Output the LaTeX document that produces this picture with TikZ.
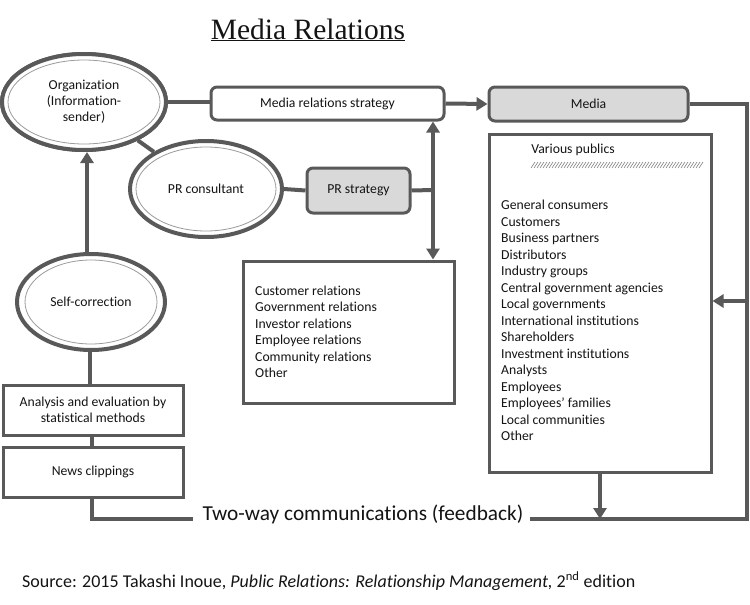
\documentclass[tikz,border=0pt]{standalone}
\usepackage{fontspec}
\setmainfont{Carlito}[Ligatures={NoCommon,NoRare,NoContextual}]
\newfontfamily\titlefont{Liberation Serif}
\usetikzlibrary{shapes.geometric,arrows.meta,calc}
\definecolor{linec}{RGB}{89,89,89}
\definecolor{boxfill}{RGB}{217,217,217}
\definecolor{txt}{RGB}{20,20,20}
\begin{document}
\begin{tikzpicture}[x=1pt,y=-1pt,
  every node/.style={text=txt},
  conn/.style={draw=linec,line width=4pt},
  arr/.style={conn,-{Triangle[width=13pt,length=11pt]}},
  darr/.style={conn,{Triangle[width=13pt,length=11pt]}-{Triangle[width=13pt,length=11pt]}},
  boxtext/.style={font=\fontsize{13.7}{16}\selectfont},
  sqbox/.style={draw=linec,line width=3pt,fill=white,inner sep=0pt,boxtext,align=center},
  rbox/.style={sqbox,rounded corners=6pt},
  gbox/.style={rbox,fill=boxfill},
  ell/.style={ellipse,draw=linec,line width=4pt,fill=white,inner sep=0pt,boxtext,align=center},
  inner/.style={draw=linec!60,line width=0.8pt},
  lst/.style={font=\fontsize{13.7}{16}\selectfont,inner sep=0pt,anchor=base west}
]
\useasboundingbox (0,0) rectangle (750,605);

% title
\node[font=\titlefont\fontsize{29.5}{32}\selectfont,inner sep=0pt,anchor=base] (title) at (308,39) {\underline{Media Relations}};

\node[ell,minimum width=164pt,minimum height=96pt] (org) at (84,102) {Organization\\(Information-\\sender)};
\node[ell,minimum width=152pt,minimum height=96pt] (prc) at (206,189) {PR consultant};
\draw[conn] (org) -- (prc);
\node[ell,minimum width=164pt,minimum height=96pt] (org2) at (84,102) {Organization\\(Information-\\sender)};
\draw[inner] (org2.center) ellipse [x radius=76pt, y radius=42pt];
\draw[inner] (prc.center) ellipse [x radius=70pt, y radius=42pt];

\node[rbox,minimum width=233pt,minimum height=33pt] (mrs) at (327.5,103.5) {Media relations strategy};
\node[gbox,minimum width=199pt,minimum height=34pt] (media) at (588.5,104) {Media};
\node[gbox,minimum width=103pt,minimum height=45pt] (prs) at (358.5,190.5) {PR strategy};

\draw[conn] (org2.east) -- (mrs.west |- org2.east);
\draw[arr] (mrs.east) -- (media.west);
\draw[conn] (prc.east) -- (prs.west);

% relations box
\node[sqbox,minimum width=211pt,minimum height=142pt] (rel) at (348.5,332) {};
\foreach \t [count=\i] in {Customer relations,Government relations,Investor relations,Employee relations,Community relations,Other}
  \node[lst] (r\i) at (255,{295.5+16.4*(\i-1)}) {\t};

\coordinate (jn) at (433,190);
\draw[conn] (prs.east) -- (jn);
\draw[darr] (jn |- mrs.south) -- (jn |- rel.north);

% publics box
\node[sqbox,minimum width=222pt,minimum height=338pt] (pub) at (600,303) {};
\node[boxtext,inner sep=0pt] (vp) at (573,150) {Various publics};
\foreach \k in {0,...,56}
  \draw[linec!75,line width=0.6pt] ({531+3*\k},168) -- ({535+3*\k},162);
\foreach \t [count=\i] in {General consumers,Customers,Business partners,Distributors,Industry groups,Central government agencies,Local governments,International institutions,Shareholders,Investment institutions,Analysts,Employees,Employees’ families,Local communities,Other}
  \node[lst] (p\i) at (501,{209.5+16.5*(\i-1)}) {\t};

% left column
\node[ell,minimum width=148pt,minimum height=96pt] (self) at (91,302) {Self-correction};
\draw[inner] (self.center) ellipse [x radius=66pt, y radius=42pt];
\node[sqbox,minimum width=180pt,minimum height=50pt] (ana) at (93,410) {Analysis and evaluation by\\statistical methods};
\node[sqbox,minimum width=180pt,minimum height=50pt] (news) at (93,472) {News clippings};
\coordinate (up) at (87,0);
\draw[arr] (self.north -| up) -- (org2.south -| up);
\draw[conn] (self.south -| 90,0) -- (ana.north -| 90,0);
\draw[conn] (ana.south -| 92,0) -- (news.north -| 92,0);

% feedback loop
\node[font=\fontsize{21.3}{24}\selectfont,inner sep=0pt] (fb) at (363,514) {Two-way communications (feedback)};
\coordinate (fbR) at (747,519);
\coordinate (fbL) at (92,519);
\draw[conn] (media.east) -- (fbR |- media.east) -- (fbR) -- ([xshift=6pt]fb.east |- fbR);
\draw[conn] (news.south -| fbL) -- (fbL) -- ([xshift=-9pt]fb.west |- fbL);
\coordinate (ri) at (747,301);
\draw[arr] (ri) -- (pub.east |- ri);
\draw[arr] (pub.south) -- (pub.south |- fbR);

% source
\node[font=\fontsize{18}{21}\selectfont,inner sep=0pt,anchor=base west] (src) at (22,587) {Source: 2015 Takashi Inoue, \textit{Public Relations: Relationship Management,} 2\textsuperscript{nd} edition};
\end{tikzpicture}
\end{document}
